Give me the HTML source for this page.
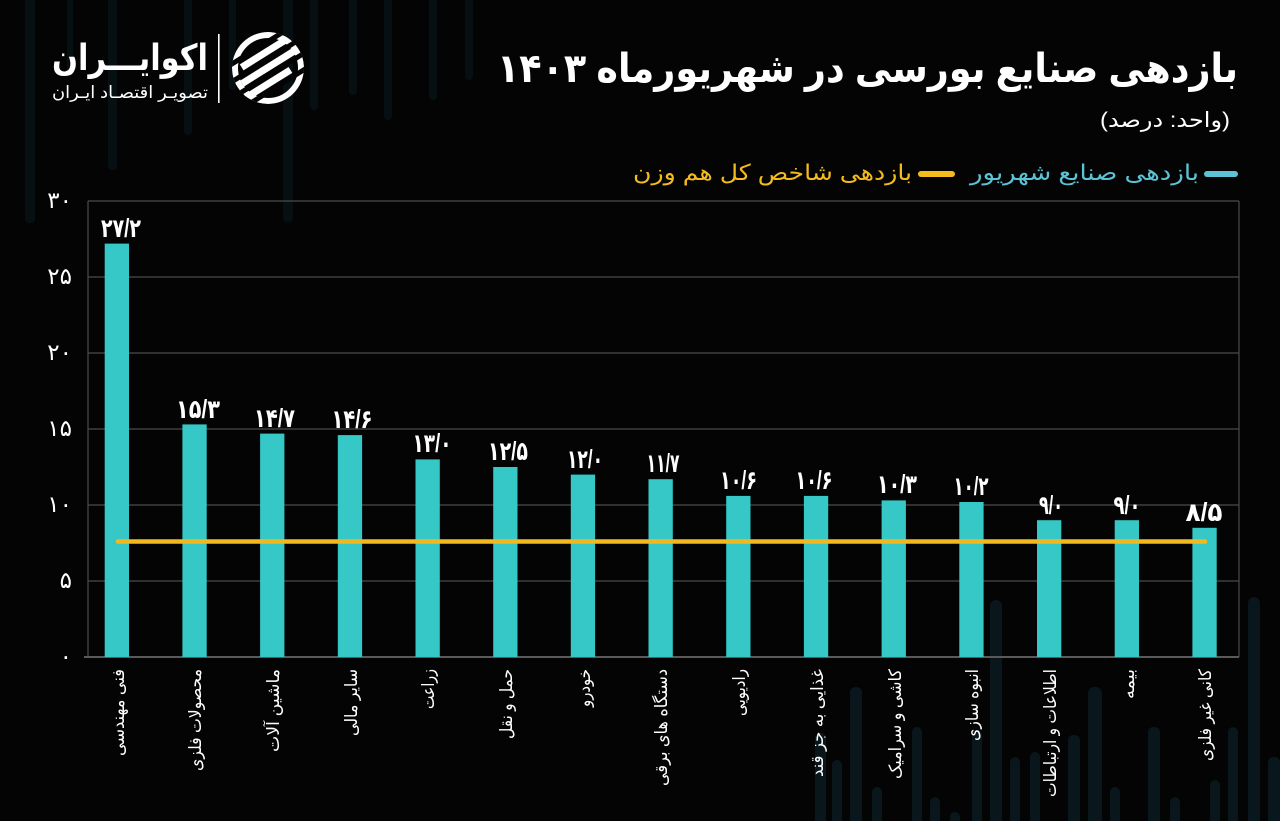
<!DOCTYPE html>
<html>
<head>
<meta charset="utf-8">
<style>
  html,body{margin:0;padding:0;background:#040404;}
  svg{display:block;}
  text{font-family:"Liberation Sans","DejaVu Sans",sans-serif;}
</style>
</head>
<body>
<svg width="1280" height="821" viewBox="0 0 1280 821" xmlns="http://www.w3.org/2000/svg">
  <rect x="0" y="0" width="1280" height="821" fill="#040404"/>

  <!-- faint background candles (top) -->
  <g fill="#061013">
    <rect x="25" y="-6" width="10" height="229" rx="4"/>
    <rect x="283" y="-6" width="10" height="228" rx="4"/>
    <rect x="67" y="-6" width="6" height="81" rx="3"/>
    <rect x="108" y="-6" width="9" height="176" rx="4"/>
    <rect x="184" y="-6" width="8" height="141" rx="4"/>
    <rect x="229" y="-6" width="7" height="96" rx="3"/>
    <rect x="310" y="-6" width="8" height="116" rx="4"/>
    <rect x="349" y="-6" width="8" height="101" rx="4"/>
    <rect x="384" y="-6" width="8" height="126" rx="4"/>
    <rect x="429" y="-6" width="8" height="106" rx="4"/>
    <rect x="465" y="-6" width="8" height="86" rx="4"/>
  </g>
  <!-- faint background candles (bottom right) -->
  <g fill="#09161b">
    <rect x="815" y="733" width="11" height="100" rx="5"/>
    <rect x="832" y="760" width="10" height="80" rx="5"/>
    <rect x="850" y="687" width="12" height="140" rx="5"/>
    <rect x="872" y="787" width="10" height="40" rx="5"/>
    <rect x="912" y="727" width="10" height="100" rx="5"/>
    <rect x="930" y="797" width="10" height="30" rx="5"/>
    <rect x="950" y="812" width="10" height="20" rx="5"/>
    <rect x="972" y="730" width="10" height="100" rx="5"/>
    <rect x="990" y="600" width="12" height="230" rx="6"/>
    <rect x="1010" y="757" width="10" height="70" rx="5"/>
    <rect x="1030" y="752" width="10" height="75" rx="5"/>
    <rect x="1068" y="735" width="12" height="95" rx="5"/>
    <rect x="1088" y="687" width="14" height="140" rx="6"/>
    <rect x="1110" y="787" width="10" height="40" rx="5"/>
    <rect x="1148" y="727" width="12" height="100" rx="5"/>
    <rect x="1170" y="797" width="10" height="30" rx="5"/>
    <rect x="1210" y="780" width="10" height="50" rx="5"/>
    <rect x="1228" y="727" width="10" height="100" rx="5"/>
    <rect x="1248" y="597" width="12" height="230" rx="6"/>
    <rect x="1268" y="757" width="12" height="70" rx="5"/>
  </g>

  <!-- Logo -->
  <defs>
    <clipPath id="logoClip"><circle cx="268" cy="68" r="36"/></clipPath>
  </defs>
  <g clip-path="url(#logoClip)">
    <circle cx="268" cy="68" r="33" fill="none" stroke="#ffffff" stroke-width="6"/>
    <g transform="rotate(-32 268 68)">
      <rect x="246" y="50" width="60" height="7" fill="#ffffff"/>
      <rect x="238" y="64" width="62" height="7" fill="#ffffff"/>
      <rect x="230" y="78" width="56" height="7" fill="#ffffff"/>
      <rect x="220" y="43" width="100" height="5" fill="#040404"/>
      <rect x="220" y="58" width="100" height="5" fill="#040404"/>
      <rect x="220" y="72" width="100" height="5" fill="#040404"/>
      <rect x="220" y="86" width="100" height="5" fill="#040404"/>
    </g>
  </g>
  <rect x="218" y="34" width="1.6" height="69" fill="#ffffff"/>
  <text x="208" y="70" text-anchor="end" font-size="36" font-weight="bold" fill="#ffffff" textLength="156" lengthAdjust="spacingAndGlyphs">اکوایـــران</text>
  <text x="208" y="98" text-anchor="end" font-size="17" fill="#ffffff" textLength="156" lengthAdjust="spacingAndGlyphs">تصویـر اقتصـاد ایـران</text>

  <!-- Title -->
  <text x="1238" y="82" text-anchor="end" font-size="40" font-weight="bold" fill="#ffffff" textLength="741" lengthAdjust="spacingAndGlyphs">بازدهی صنایع بورسی در شهریورماه ۱۴۰۳</text>
  <text x="1230" y="127" text-anchor="end" font-size="21" fill="#ffffff" textLength="130" lengthAdjust="spacingAndGlyphs">&#x200F;(واحد: درصد)&#x200F;</text>

  <!-- Legend -->
  <rect x="1204" y="171" width="34" height="6" rx="3" fill="#5cc3d6"/>
  <text x="1199" y="180" text-anchor="end" font-size="22" fill="#5cc3d6" textLength="229" lengthAdjust="spacingAndGlyphs">بازدهی صنایع شهریور</text>
  <rect x="918" y="171" width="37" height="6" rx="3" fill="#f4bb1c"/>
  <text x="912" y="180" text-anchor="end" font-size="22" fill="#f4bb1c" textLength="279" lengthAdjust="spacingAndGlyphs">بازدهی شاخص کل هم وزن</text>

  <!-- Gridlines -->
  <g stroke="#4a4a4a" stroke-width="1.2">
    <line x1="88" y1="201" x2="1239" y2="201"/>
    <line x1="88" y1="277" x2="1239" y2="277"/>
    <line x1="88" y1="353" x2="1239" y2="353"/>
    <line x1="88" y1="429" x2="1239" y2="429"/>
    <line x1="88" y1="505" x2="1239" y2="505"/>
    <line x1="88" y1="581" x2="1239" y2="581"/>
    <line x1="88" y1="201" x2="88" y2="657"/>
    <line x1="1239" y1="201" x2="1239" y2="657"/>
  </g>
  <line x1="84" y1="657" x2="1239" y2="657" stroke="#5a5a5a" stroke-width="2"/>

  <!-- Y tick labels -->
  <g font-size="23" fill="#ffffff" text-anchor="end">
    <text x="72" y="208">۳۰</text>
    <text x="72" y="284">۲۵</text>
    <text x="72" y="360">۲۰</text>
    <text x="72" y="436">۱۵</text>
    <text x="72" y="512">۱۰</text>
    <text x="72" y="588">۵</text>
    <text x="72" y="664">۰</text>
  </g>

  <!-- Bars -->
  <g fill="#35c8c6">
    <rect x="104.7" y="243.6" width="24.3" height="413.4"/>
    <rect x="182.4" y="424.4" width="24.3" height="232.6"/>
    <rect x="260.1" y="433.6" width="24.3" height="223.4"/>
    <rect x="337.8" y="435.1" width="24.3" height="221.9"/>
    <rect x="415.5" y="459.4" width="24.3" height="197.6"/>
    <rect x="493.2" y="467.0" width="24.3" height="190.0"/>
    <rect x="570.8" y="474.6" width="24.3" height="182.4"/>
    <rect x="648.5" y="479.2" width="24.3" height="177.8"/>
    <rect x="726.2" y="495.9" width="24.3" height="161.1"/>
    <rect x="803.9" y="495.9" width="24.3" height="161.1"/>
    <rect x="881.6" y="500.4" width="24.3" height="156.6"/>
    <rect x="959.3" y="502.0" width="24.3" height="155.0"/>
    <rect x="1037.0" y="520.2" width="24.3" height="136.8"/>
    <rect x="1114.7" y="520.2" width="24.3" height="136.8"/>
    <rect x="1192.4" y="527.8" width="24.3" height="129.2"/>
  </g>

  <!-- Benchmark line -->
  <line x1="118" y1="541.5" x2="1205" y2="541.5" stroke="#f2b820" stroke-width="4.5" stroke-linecap="round"/>

  <!-- Value labels -->
  <g font-size="26" font-weight="bold" fill="#ffffff" text-anchor="middle">
    <text x="121" y="237" textLength="40" lengthAdjust="spacingAndGlyphs">۲۷/۲</text>
    <text x="198" y="418" textLength="44" lengthAdjust="spacingAndGlyphs">۱۵/۳</text>
    <text x="274.5" y="427" textLength="41" lengthAdjust="spacingAndGlyphs">۱۴/۷</text>
    <text x="352" y="428" textLength="41" lengthAdjust="spacingAndGlyphs">۱۴/۶</text>
    <text x="432" y="452" textLength="39" lengthAdjust="spacingAndGlyphs">۱۳/۰</text>
    <text x="508" y="460" textLength="40" lengthAdjust="spacingAndGlyphs">۱۲/۵</text>
    <text x="585" y="468" textLength="36" lengthAdjust="spacingAndGlyphs">۱۲/۰</text>
    <text x="663" y="472" textLength="33" lengthAdjust="spacingAndGlyphs">۱۱/۷</text>
    <text x="738.5" y="489" textLength="37" lengthAdjust="spacingAndGlyphs">۱۰/۶</text>
    <text x="814" y="489" textLength="37" lengthAdjust="spacingAndGlyphs">۱۰/۶</text>
    <text x="897" y="493" textLength="40" lengthAdjust="spacingAndGlyphs">۱۰/۳</text>
    <text x="971" y="495" textLength="35" lengthAdjust="spacingAndGlyphs">۱۰/۲</text>
    <text x="1051" y="514" textLength="24" lengthAdjust="spacingAndGlyphs">۹/۰</text>
    <text x="1127" y="514" textLength="27" lengthAdjust="spacingAndGlyphs">۹/۰</text>
    <text x="1204" y="521" textLength="37" lengthAdjust="spacingAndGlyphs">۸/۵</text>
  </g>

  <!-- X labels (rotated) -->
  <g font-size="17" fill="#ffffff" text-anchor="end">
    <text transform="translate(124 669) rotate(-90)" textLength="87" lengthAdjust="spacingAndGlyphs">فنی مهندسی</text>
    <text transform="translate(201 669) rotate(-90)" textLength="102" lengthAdjust="spacingAndGlyphs">محصولات فلزی</text>
    <text transform="translate(279 669) rotate(-90)" textLength="83" lengthAdjust="spacingAndGlyphs">ماشین آلات</text>
    <text transform="translate(357 669) rotate(-90)" textLength="67" lengthAdjust="spacingAndGlyphs">سایر مالی</text>
    <text transform="translate(434 669) rotate(-90)" textLength="40" lengthAdjust="spacingAndGlyphs">زراعت</text>
    <text transform="translate(512 669) rotate(-90)" textLength="70" lengthAdjust="spacingAndGlyphs">حمل و نقل</text>
    <text transform="translate(590 669) rotate(-90)" textLength="38" lengthAdjust="spacingAndGlyphs">خودرو</text>
    <text transform="translate(667 669) rotate(-90)" textLength="117" lengthAdjust="spacingAndGlyphs">دستگاه های برقی</text>
    <text transform="translate(745 669) rotate(-90)" textLength="47" lengthAdjust="spacingAndGlyphs">رادیویی</text>
    <text transform="translate(823 669) rotate(-90)" textLength="108" lengthAdjust="spacingAndGlyphs">غذایی به جز قند</text>
    <text transform="translate(901 669) rotate(-90)" textLength="110" lengthAdjust="spacingAndGlyphs">کاشی و سرامیک</text>
    <text transform="translate(978 669) rotate(-90)" textLength="72" lengthAdjust="spacingAndGlyphs">انبوه سازی</text>
    <text transform="translate(1056 669) rotate(-90)" textLength="128" lengthAdjust="spacingAndGlyphs">اطلاعات و ارتباطات</text>
    <text transform="translate(1134 669) rotate(-90)" textLength="30" lengthAdjust="spacingAndGlyphs">بیمه</text>
    <text transform="translate(1211 669) rotate(-90)" textLength="92" lengthAdjust="spacingAndGlyphs">کانی غیر فلزی</text>
  </g>
</svg>
</body>
</html>
